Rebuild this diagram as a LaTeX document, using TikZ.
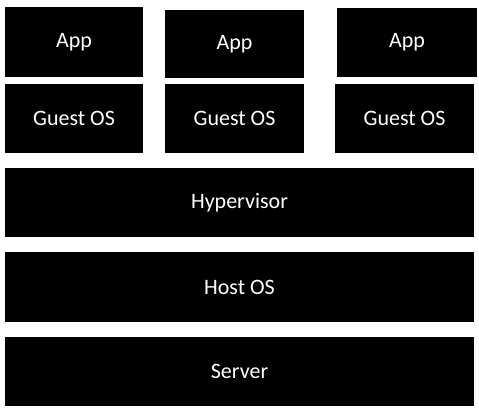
\documentclass[tikz,border=0pt]{standalone}
\usepackage{fontspec}
\setmainfont{Carlito}
\usepackage{tikz}

\begin{document}
\begin{tikzpicture}[x=1pt, y=-1pt,
  layer/.style={fill=black, text=white, inner sep=0pt, minimum width=469pt, minimum height=69pt, font=\fontsize{22}{26}\selectfont},
  vm/.style={layer, minimum width=139pt}]
\useasboundingbox (0,0) rectangle (479,409);
\node[vm, minimum width=138pt, minimum height=70pt] (app1) at (74,42)    {App};
\node[vm, minimum height=68pt]                      (app2) at (234.5,44) {App};
\node[vm, minimum width=140pt]                      (app3) at (407,42.5) {App};
\node[vm, minimum width=138pt] (guest1) at (74,118.5)    {Guest OS};
\node[vm]                      (guest2) at (234.5,118.5) {Guest OS};
\node[vm]                      (guest3) at (404.5,118.5) {Guest OS};
\node[layer]                     (hyp)    at (239.5,202.5) {Hypervisor};
\node[layer, minimum height=70pt] (host)  at (239.5,287)   {Host OS};
\node[layer]                     (server) at (239.5,371.5) {Server};
\end{tikzpicture}
\end{document}
